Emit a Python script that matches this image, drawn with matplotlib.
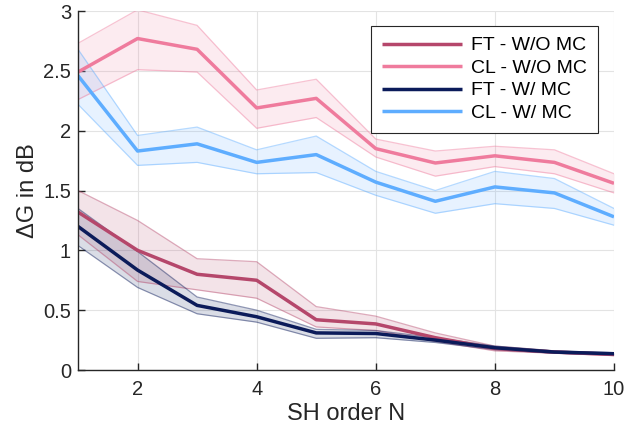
import numpy as np
import matplotlib
matplotlib.use('Agg')
import matplotlib.pyplot as plt

plt.rcParams['font.family'] = ['Liberation Sans', 'DejaVu Sans']

orders = [1, 2, 3, 4, 5, 6, 7, 8, 9, 10]

# FT - W/O MC
ft_wo = [1.32, 1.00, 0.80, 0.75, 0.42, 0.385, 0.27, 0.18, 0.15, 0.13]
ft_wo_hi = [1.50, 1.25, 0.93, 0.905, 0.53, 0.45, 0.31, 0.20, 0.16, 0.14]
ft_wo_lo = [1.13, 0.74, 0.67, 0.60, 0.36, 0.33, 0.24, 0.16, 0.14, 0.12]

# CL - W/O MC
cl_wo = [2.49, 2.77, 2.68, 2.19, 2.27, 1.85, 1.73, 1.79, 1.735, 1.56]
cl_wo_hi = [2.73, 3.01, 2.88, 2.34, 2.43, 1.93, 1.83, 1.87, 1.84, 1.64]
cl_wo_lo = [2.26, 2.51, 2.49, 2.02, 2.11, 1.78, 1.62, 1.70, 1.64, 1.48]

# FT - W/ MC
ft_w = [1.20, 0.835, 0.54, 0.445, 0.31, 0.305, 0.25, 0.186, 0.15, 0.136]
ft_w_hi = [1.35, 0.99, 0.61, 0.50, 0.34, 0.33, 0.27, 0.20, 0.16, 0.145]
ft_w_lo = [1.04, 0.69, 0.47, 0.40, 0.265, 0.27, 0.23, 0.17, 0.14, 0.127]

# CL - W/ MC
cl_w = [2.46, 1.83, 1.89, 1.735, 1.80, 1.57, 1.41, 1.53, 1.48, 1.28]
cl_w_hi = [2.68, 1.96, 2.03, 1.84, 1.955, 1.66, 1.50, 1.66, 1.60, 1.35]
cl_w_lo = [2.22, 1.71, 1.735, 1.64, 1.65, 1.46, 1.31, 1.39, 1.35, 1.21]

labels = ['FT - W/O MC', 'CL - W/O MC', 'FT - W/ MC', 'CL - W/ MC']
colors = ['#B5476B', '#EF7B9D', '#0B1B5A', '#5EADFF']

series = [(ft_wo, ft_wo_lo, ft_wo_hi), (cl_wo, cl_wo_lo, cl_wo_hi),
          (ft_w, ft_w_lo, ft_w_hi), (cl_w, cl_w_lo, cl_w_hi)]

fig = plt.figure(figsize=(6.42, 4.32), dpi=100)
ax = fig.add_axes([0.1215, 0.1435, 0.8349, 0.831])

# shaded bands first, mean lines on top
for (m, lo, hi), c, lab in zip(series, colors, labels):
    ax.fill_between(orders, lo, hi, color=c, alpha=0.15, linewidth=0)
    ax.plot(orders, lo, color=c, alpha=0.45, linewidth=0.9)
    ax.plot(orders, hi, color=c, alpha=0.45, linewidth=0.9)
for (m, lo, hi), c, lab in zip(series, colors, labels):
    ax.plot(orders, m, color=c, linewidth=2.5, label=lab, solid_capstyle='butt')

ax.set_xlim(1, 10)
ax.set_ylim(0, 3)
ax.set_xticks([2, 4, 6, 8, 10])
ax.set_yticks([0, 0.5, 1, 1.5, 2, 2.5, 3])
ax.set_yticklabels(['0', '0.5', '1', '1.5', '2', '2.5', '3'])
ax.grid(True, color='#e3e3e3', linewidth=0.8)
ax.set_axisbelow(True)
ax.spines['top'].set_visible(False)
ax.spines['right'].set_visible(False)
for s in ['left', 'bottom']:
    ax.spines[s].set_color('#262626')
    ax.spines[s].set_linewidth(1.0)
ax.tick_params(direction='in', length=5, width=1.0, colors='#262626', labelsize=14.5)
ax.tick_params(axis='x', pad=7)
ax.tick_params(axis='y', pad=5)

ax.set_xlabel('SH order N', fontsize=17, color='#262626', labelpad=3)
ax.set_ylabel('\u0394G in dB', fontsize=17, color='#262626', labelpad=3)

leg = ax.legend(loc='upper right', bbox_to_anchor=(0.970, 0.958), fontsize=14, frameon=True,
                fancybox=False, edgecolor='#262626', framealpha=1, handlelength=4.1,
                handletextpad=0.5, labelspacing=0.25, borderpad=0.55, borderaxespad=0)
leg.get_frame().set_linewidth(0.8)

fig.savefig('out.png', dpi=100)
